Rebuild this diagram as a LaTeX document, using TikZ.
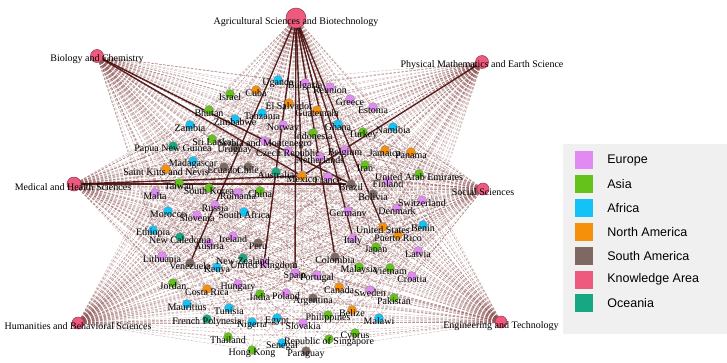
\documentclass[tikz,border=0pt]{standalone}
\usepackage{fontspec}
\setmainfont{Liberation Serif}
\newfontfamily\keyfont{Liberation Sans}
\usepackage{xcolor}
\usepackage{tikz}
\usetikzlibrary{positioning}
\definecolor{EuropeC}{HTML}{E08AF2}
\definecolor{AsiaC}{HTML}{64C21A}
\definecolor{AfricaC}{HTML}{14C3F5}
\definecolor{NorthAmC}{HTML}{F5900A}
\definecolor{SouthAmC}{HTML}{7D6961}
\definecolor{KnowC}{HTML}{EE5A7E}
\definecolor{OceaniaC}{HTML}{17A883}
\definecolor{LinkC}{HTML}{8A4E4E}
\definecolor{HeavyC}{HTML}{4A0E0E}
\definecolor{KeyBg}{HTML}{F0F0F0}
\pgfdeclarelayer{edges}
\pgfdeclarelayer{labels}
\pgfsetlayers{edges,main,labels}

\def\countrylist{%
bulgaria/305/83/EuropeC/Bulgaria,reunion/330/87/EuropeC/Reunion,greece/350/99/EuropeC/Greece,
estonia/373/107/EuropeC/Estonia,norway/283/125/EuropeC/Norway,serbia/265/141/EuropeC/Serbia and Montenegro,
czech/288/151/EuropeC/Czech Republic,netherlands/320/157/EuropeC/Netherlands,belgium/345/150/EuropeC/Belgium,
france/328/177/EuropeC/France,romania/238/193/EuropeC/Romania,malta/155/193/EuropeC/Malta,
russia/215/205/EuropeC/Russia,slovenia/197/215/EuropeC/Slovenia,germany/348/211/EuropeC/Germany,
finland/388/181/EuropeC/Finland,switzerland/422/200/EuropeC/Switzerland,denmark/397/208/EuropeC/Denmark,
austria/209/243/EuropeC/Austria,ireland/233/236/EuropeC/Ireland,lithuania/162/256/EuropeC/Lithuania,
italy/353/238/EuropeC/Italy,latvia/418/251/EuropeC/Latvia,croatia/412/276/EuropeC/Croatia,
unitedkingdom/264/263/EuropeC/United Kingdom,spain/295/273/EuropeC/Spain,portugal/317/275/EuropeC/Portugal,
hungary/238/284/EuropeC/Hungary,poland/286/293/EuropeC/Poland,sweden/370/290/EuropeC/Sweden,
slovakia/303/323/EuropeC/Slovakia,
israel/230/94/AsiaC/Israel,bhutan/209/110/AsiaC/Bhutan,indonesia/313/133/AsiaC/Indonesia,
srilanka/212/139/AsiaC/Sri Lanka,turkey/363/132/AsiaC/Turkey,iran/365/165/AsiaC/Iran,
uae/419/174/AsiaC/United Arab Emirates,taiwan/179/183/AsiaC/Taiwan,southkorea/209/188/AsiaC/South Korea,
china/260/191/AsiaC/China,japan/376/247/AsiaC/Japan,malaysia/359/267/AsiaC/Malaysia,
vietnam/390/268/AsiaC/Vietnam,jordan/173/283/AsiaC/Jordan,india/260/294/AsiaC/India,
pakistan/394/298/AsiaC/Pakistan,philippines/328/315/AsiaC/Philippines,cyprus/355/333/AsiaC/Cyprus,
thailand/228/337/AsiaC/Thailand,singapore/329/339/AsiaC/Republic of Singapore,hongkong/252/350/AsiaC/Hong Kong,
uganda/278/80/AfricaC/Uganda,zimbabwe/235/119/AfricaC/Zimbabwe,tanzania/262/113/AfricaC/Tanzania,
zambia/190/125/AfricaC/Zambia,ghana/338/124/AfricaC/Ghana,namibia/393/127/AfricaC/Namibia,
madagascar/193/161/AfricaC/Madagascar,morocco/168/211/AfricaC/Morocco,southafrica/244/212/AfricaC/South Africa,
ethiopia/153/230/AfricaC/Ethiopia,benin/423/225/AfricaC/Benin,kenya/217/267/AfricaC/Kenya,
mauritius/187/304/AfricaC/Mauritius,tunisia/229/308/AfricaC/Tunisia,malawi/379/318/AfricaC/Malawi,
nigeria/252/322/AfricaC/Nigeria,egypt/277/318/AfricaC/Egypt,senegal/282/343/AfricaC/Senegal,
cuba/256/90/NorthAmC/Cuba,elsalvador/289/103/NorthAmC/El Salvador,guatemala/317/110/NorthAmC/Guatemala,
jamaica/385/150/NorthAmC/Jamaica,panama/411/152/NorthAmC/Panama,stkitts/166/169/NorthAmC/Saint Kitts and Nevis,
mexico/302/176/NorthAmC/Mexico,unitedstates/383/227/NorthAmC/United States,puertorico/398/235/NorthAmC/Puerto Rico,
costarica/207/289/NorthAmC/Costa Rica,canada/339/287/NorthAmC/Canada,belize/352/310/NorthAmC/Belize,
uruguay/235/147/SouthAmC/Uruguay,ecuador/224/167/SouthAmC/Ecuador,chile/248/167/SouthAmC/Chile,
brazil/351/184/SouthAmC/Brazil,bolivia/373/194/SouthAmC/Bolivia,peru/258/243/SouthAmC/Peru,
colombia/335/257/SouthAmC/Colombia,venezuela/190/263/SouthAmC/Venezuela,argentina/313/298/SouthAmC/Argentina,
paraguay/306/351/SouthAmC/Paraguay,
papua/173/146/OceaniaC/Papua New Guinea,australia/276/172/OceaniaC/Australia,newcaledonia/180/237/OceaniaC/New Caledonia,
newzealand/243/258/OceaniaC/New Zealand,frenchpolynesia/207/319/OceaniaC/French Polynesia}

\begin{document}
\begin{tikzpicture}[
	x=1pt, y=-1pt,
	dot/.style={circle, draw=black!45, line width=0.3pt, inner sep=0pt, minimum size=9pt},
	hub/.style={circle, draw=KnowC!60!black, line width=0.5pt, fill=KnowC, inner sep=0pt},
	lbl/.style={inner sep=0pt, font=\fontsize{10}{11}\selectfont},
	link/.style={LinkC, line width=0.35pt, dash pattern=on 2.5pt off 1.5pt, opacity=0.5},
	heavy/.style={HeavyC, line width=1.4pt, opacity=0.9},
	swatch/.style={minimum size=18pt, inner sep=0pt},
	keytext/.style={inner sep=0pt, font=\keyfont\fontsize{12.5}{14}\selectfont}
]
\useasboundingbox (0,0) rectangle (727,362);

\node[hub, minimum size=20pt] (agri) at (296,18) {};
\node[hub, minimum size=13pt] (bio) at (97,56) {};
\node[hub, minimum size=13pt] (phys) at (482,62) {};
\node[hub, minimum size=14pt] (med) at (74,184) {};
\node[hub, minimum size=12pt] (soc) at (483,189) {};
\node[hub, minimum size=12pt] (hum) at (78,323) {};
\node[hub, minimum size=12pt] (eng) at (501,322) {};

\foreach \n/\x/\y/\c/\t in \countrylist {
	\node[dot, fill=\c] (\n) at (\x,\y) {};
	\begin{pgfonlayer}{labels}
		\node[lbl] (\n-lbl) at (\x,\y+3) {\t};
	\end{pgfonlayer}
}

\begin{pgfonlayer}{labels}
\node[lbl] (agri-lbl) at (296,22) {Agricultural Sciences and Biotechnology};
\node[lbl] (bio-lbl) at (97,59) {Biology and Chemistry};
\node[lbl] (phys-lbl) at (482,65) {Physical Mathematics and Earth Science};
\node[lbl] (med-lbl) at (73,187) {Medical and Health Sciences};
\node[lbl] (soc-lbl) at (483,192) {Social Sciences};
\node[lbl] (hum-lbl) at (78,326) {Humanities and Behavioral Sciences};
\node[lbl] (eng-lbl) at (501,326) {Engineering and Technology};
\end{pgfonlayer}

\begin{pgfonlayer}{edges}
\foreach \h in {agri,bio,phys,med,soc,hum,eng}
	\foreach \n/\x/\y/\c/\t in \countrylist
		\draw[link] (\h) -- (\n);
\foreach \h/\n in {agri/mexico,agri/spain,agri/brazil,agri/unitedstates,agri/colombia,agri/unitedkingdom,
	agri/italy,agri/venezuela,bio/brazil,bio/mexico,med/mexico,med/brazil,phys/mexico}
	\draw[heavy] (\h) -- (\n);
\end{pgfonlayer}

\node[fill=KeyBg, minimum width=164pt, minimum height=190pt, inner sep=0pt, anchor=north west] (key) at (563,144) {};
\node[swatch, fill=EuropeC] (kEurope) at (584,160) {};
\node[swatch, fill=AsiaC, below=5.5pt of kEurope] (kAsia) {};
\node[swatch, fill=AfricaC, below=5.5pt of kAsia] (kAfrica) {};
\node[swatch, fill=NorthAmC, below=5.5pt of kAfrica] (kNorthAm) {};
\node[swatch, fill=SouthAmC, below=5.5pt of kNorthAm] (kSouthAm) {};
\node[swatch, fill=KnowC, below=5.5pt of kSouthAm] (kKnow) {};
\node[swatch, fill=OceaniaC, below=5.5pt of kKnow] (kOceania) {};
\node[keytext, right=14pt of kEurope] {Europe};
\node[keytext, right=14pt of kAsia] {Asia};
\node[keytext, right=14pt of kAfrica] {Africa};
\node[keytext, right=14pt of kNorthAm] {North America};
\node[keytext, right=14pt of kSouthAm] {South America};
\node[keytext, right=14pt of kKnow] {Knowledge Area};
\node[keytext, right=14pt of kOceania] {Oceania};
\end{tikzpicture}
\end{document}
